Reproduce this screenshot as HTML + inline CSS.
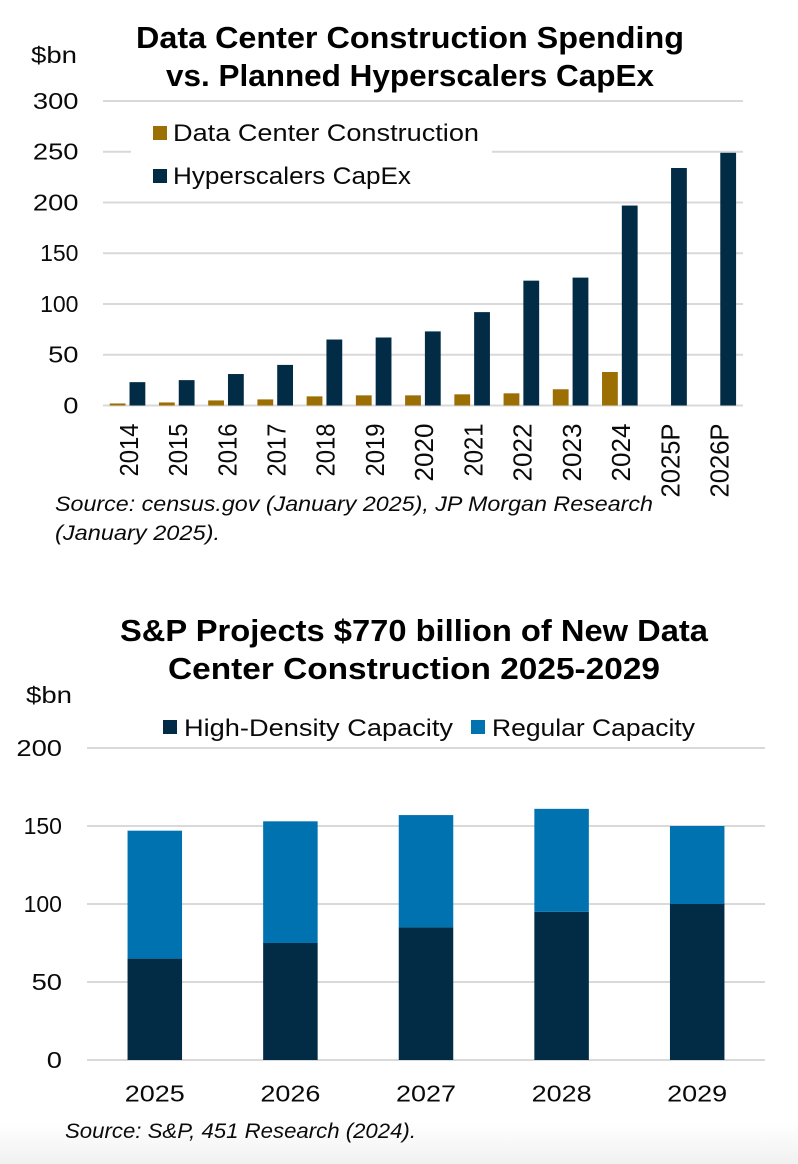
<!DOCTYPE html>
<html>
<head>
<meta charset="utf-8">
<title>Data Center Construction Charts</title>
<style>
html,body{margin:0;padding:0;background:#fff;width:798px;height:1164px;overflow:hidden}
svg{display:block;position:absolute;left:0;top:0}
text{font-family:"Liberation Sans",Arial,sans-serif;fill:#0a0a0a}
.title{font-size:30.5px;font-weight:700;text-anchor:middle;fill:#000}
.tick{font-size:23.5px}
.rot{font-size:25.5px}
.legend{font-size:24px}
.src{font-size:21.5px;font-style:italic}
</style>
</head>
<body>
<svg id="page" width="798" height="1164" viewBox="0 0 798 1164" xmlns="http://www.w3.org/2000/svg">
  <defs>
    <linearGradient id="fade" x1="0" y1="0" x2="0" y2="1">
      <stop offset="0" stop-color="#ffffff"/>
      <stop offset="1" stop-color="#f1f1f1"/>
    </linearGradient>
  </defs>
  <rect x="0" y="0" width="798" height="1164" fill="#ffffff"/>
  <rect x="0" y="1122" width="798" height="42" fill="url(#fade)"/>

  <g id="chart1">
    <text class="title" x="410" y="48" textLength="548" lengthAdjust="spacingAndGlyphs">Data Center Construction Spending</text>
    <text class="title" x="410" y="86" textLength="488" lengthAdjust="spacingAndGlyphs">vs. Planned Hyperscalers CapEx</text>
    <text class="tick" x="31" y="63" textLength="46" lengthAdjust="spacingAndGlyphs">$bn</text>
    <g id="c1grid"></g>
    <g id="c1bars"></g>
    <g id="c1xlabels"></g>
    <g id="c1ylabels"></g>
    <rect x="131" y="112" width="361" height="80" fill="#ffffff"/>
    <rect x="153" y="126" width="14" height="14" fill="#9c6f04"/>
    <text class="legend" x="173" y="141" textLength="306" lengthAdjust="spacingAndGlyphs">Data Center Construction</text>
    <rect x="153" y="169" width="14" height="14" fill="#022b45"/>
    <text class="legend" x="173" y="184" textLength="238" lengthAdjust="spacingAndGlyphs">Hyperscalers CapEx</text>
    <text class="src" x="55" y="511" textLength="598" lengthAdjust="spacingAndGlyphs">Source: census.gov (January 2025), JP Morgan Research</text>
    <text class="src" x="55" y="540" textLength="165" lengthAdjust="spacingAndGlyphs">(January 2025).</text>
  </g>

  <g id="chart2">
    <text class="title" x="414" y="641" textLength="588" lengthAdjust="spacingAndGlyphs">S&amp;P Projects $770 billion of New Data</text>
    <text class="title" x="414" y="679" textLength="492" lengthAdjust="spacingAndGlyphs">Center Construction 2025-2029</text>
    <text class="tick" x="26" y="703" textLength="46" lengthAdjust="spacingAndGlyphs">$bn</text>
    <rect x="163" y="720" width="14" height="14" fill="#022b45"/>
    <text class="legend" x="184" y="736" textLength="269" lengthAdjust="spacingAndGlyphs">High-Density Capacity</text>
    <rect x="471" y="720" width="14" height="14" fill="#0072b0"/>
    <text class="legend" x="492" y="736" textLength="203" lengthAdjust="spacingAndGlyphs">Regular Capacity</text>
    <g id="c2grid"></g>
    <g id="c2bars"></g>
    <g id="c2xlabels"></g>
    <g id="c2ylabels"></g>
    <text class="src" x="65" y="1138" textLength="351" lengthAdjust="spacingAndGlyphs">Source: S&amp;P, 451 Research (2024).</text>
  </g>
</svg>
<script>
const NS = 'http://www.w3.org/2000/svg';

// Chart 1 data
const years1 = ['2014','2015','2016','2017','2018','2019','2020','2021','2022','2023','2024','2025P','2026P'];
const construction = [2,3,5,6,9,10,10,11,12,16,33,0,0];
const capex = [23,25,31,40,65,67,73,92,123,126,197,234,249];
const ticks1 = [0,50,100,150,200,250,300];

// Chart 2 data
const years2 = ['2025','2026','2027','2028','2029'];
const highDensity = [65,75,85,95,100];
const regular = [82,78,72,66,50];
const ticks2 = [0,50,100,150,200];

function make(tag, parentId, attrs) {
  const el = document.createElementNS(NS, tag);
  for (const k in attrs) el.setAttribute(k, attrs[k]);
  document.getElementById(parentId).appendChild(el);
  return el;
}

// The reference typeface has wider digits and a narrow "1"
function labelWidth(str, digit, one, other) {
  let w = 0;
  for (const ch of String(str)) {
    w += ch === '1' ? one : (ch >= '0' && ch <= '9' ? digit : other);
  }
  return w;
}

// Chart 1 axes
const c1 = {left:103, right:743, top:101, bottom:405.5, max:300};
const y1 = v => c1.bottom - (v / c1.max) * (c1.bottom - c1.top);
const band1 = (c1.right - c1.left) / years1.length;
const x1 = i => c1.left + band1 * (i + 0.5) - 0.1;

ticks1.forEach(t => {
  const line = make('line', 'c1grid', {x1:c1.left, x2:c1.right, y1:y1(t), y2:y1(t), stroke:'#d9d9d9', 'stroke-width':2});
  
  
  const label = make('text', 'c1ylabels', {class:'tick', x:78.5, y:y1(t) + 7.8, 'text-anchor':'end', textLength:labelWidth(t, 15.2, 8, 15), lengthAdjust:'spacingAndGlyphs'});
  label.textContent = t;
  
  
});

years1.forEach((yr, i) => {
  const barW = 15.8;
  const g = make('rect', 'c1bars', {x:x1(i) - 2 - barW, y:y1(construction[i]), width:barW, height:y1(0) - y1(construction[i]), fill:'#9c6f04'});
  
  
  const n = make('rect', 'c1bars', {x:x1(i) + 2, y:y1(capex[i]), width:barW, height:y1(0) - y1(capex[i]), fill:'#022b45'});
  
  
  const cx = x1(i) + 10.3;
  const label = make('text', 'c1xlabels', {class:'rot', 'text-anchor':'end', textLength:labelWidth(yr, 14.5, 9.5, 16), lengthAdjust:'spacingAndGlyphs', transform:'translate(' + cx + ',423.5) rotate(-90)'});
  label.textContent = yr;
  
  
});

// Chart 2 axes
const c2 = {left:87, right:765, top:748, bottom:1060, max:200};
const y2 = v => c2.bottom - (v / c2.max) * (c2.bottom - c2.top);
const band2 = (c2.right - c2.left) / years2.length;
const x2 = i => c2.left + band2 * (i + 0.5);

ticks2.forEach(t => {
  const line = make('line', 'c2grid', {x1:c2.left, x2:c2.right, y1:y2(t), y2:y2(t), stroke:'#d9d9d9', 'stroke-width':2});
  
  
  const label = make('text', 'c2ylabels', {class:'tick', x:62, y:y2(t) + 7.8, 'text-anchor':'end', textLength:labelWidth(t, 15.2, 8, 15), lengthAdjust:'spacingAndGlyphs'});
  label.textContent = t;
  
  
});

years2.forEach((yr, i) => {
  const barW = 54.5;
  const a = make('rect', 'c2bars', {x:x2(i) - barW / 2, y:y2(highDensity[i]), width:barW, height:y2(0) - y2(highDensity[i]), fill:'#022b45'});
  
  
  const top = highDensity[i] + regular[i];
  const b = make('rect', 'c2bars', {x:x2(i) - barW / 2, y:y2(top), width:barW, height:y2(highDensity[i]) - y2(top), fill:'#0072b0'});
  
  
  const label = make('text', 'c2xlabels', {class:'tick', x:x2(i), y:1101.7, 'text-anchor':'middle', textLength:60, lengthAdjust:'spacingAndGlyphs'});
  label.textContent = yr;
  
  
});
</script>
</body>
</html>
